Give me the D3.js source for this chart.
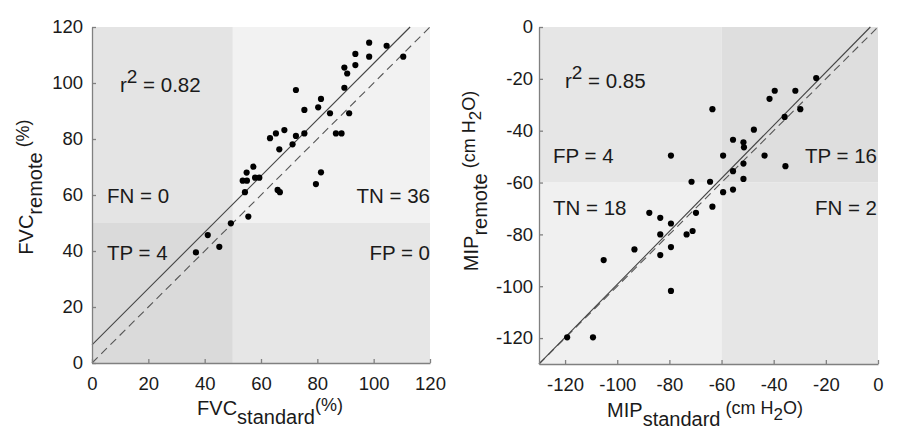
<!DOCTYPE html>
<html lang="en">
<head>
<meta charset="UTF-8">
<title>FVC / MIP agreement</title>
<script src="https://d3js.org/d3.v7.min.js"></script>
<style>
    body { margin: 0; background: #fff; }
    svg { display: block; }
    text { font-family: "Liberation Sans", Arial, sans-serif; fill: #1a1a1a; }
    .tick text { font-size: 18.5px; }
    .domain, .tick line { stroke: #808080; stroke-width: 1.3; }
    .stat { font-size: 20.5px; }
    .lab { font-size: 20px; }
</style>
</head>
<body>
<script>
// ---- data ----
const fvcStd    = [41.1, 36.9, 45.2, 49.3, 98.4, 104.6, 110.5, 93.5, 98.4, 93.5, 89.6, 90.6, 89.6, 72.4, 81.3, 80.3, 75.4, 84.5, 91.3, 68.3, 65.3, 63.2, 72.4, 75.4, 86.6, 88.6, 71.2, 66.5, 57.3, 54.9, 53.5, 55.0, 57.9, 59.4, 81.3, 79.5, 65.9, 66.7, 54.3, 55.5];
const fvcRemote = [45.7, 39.5, 41.5, 49.9, 114.4, 113.3, 109.4, 110.4, 109.4, 106.4, 105.5, 103.4, 98.3, 97.5, 94.3, 91.3, 90.4, 89.2, 89.2, 83.2, 82.0, 80.3, 81.1, 82.0, 82.0, 82.0, 78.1, 76.3, 70.1, 68.0, 65.1, 65.1, 66.2, 66.2, 68.1, 63.9, 61.8, 61.0, 61.0, 52.3];

const mipStd    = [-79.4, -63.5, -71.5, -64.4, -23.7, -39.6, -41.6, -31.7, -29.8, -35.8, -47.6, -55.6, -51.6, -51.4, -59.4, -43.5, -51.6, -35.5, -55.6, -51.6, -59.4, -55.6, -63.5, -69.8, -71.1, -87.7, -83.5, -79.4, -83.5, -73.4, -93.4, -79.4, -83.5, -105.2, -79.4, -119.2, -109.3];
const mipRemote = [-49.6, -31.7, -59.7, -59.7, -19.7, -24.6, -27.7, -24.6, -31.7, -34.7, -39.6, -43.5, -44.5, -46.4, -49.6, -49.6, -52.7, -53.7, -55.6, -58.6, -63.7, -62.7, -69.3, -71.7, -78.7, -71.7, -73.6, -75.8, -80.0, -80.0, -85.8, -84.9, -88.0, -89.9, -101.8, -119.7, -119.7];

const fvcTicks = [0, 20, 40, 60, 80, 100, 120];
const mipTicks = [-120, -100, -80, -60, -40, -20, 0];

// fitted lines (intercept, slope) as drawn
const fvcFit = [6.5, 1.005];
const mipFit = [3, 1.023];

const fvcStats = ["0.82", "FN = 0", "TN = 36", "TP = 4", "FP = 0"];
const mipStats = ["0.85", "FP = 4", "TP = 16", "TN = 18", "FN = 2"];

const W = 900, H = 448;
const svg = d3.select("body").append("svg").attr("width", W).attr("height", H);

function panel(o) {
    const x = d3.scaleLinear().domain(o.domain).range(o.xr);
    const y = d3.scaleLinear().domain(o.domain).range(o.yr);
    const g = svg.append("g");
    const [d0, d1] = o.domain, t = o.thr;

    // shaded quadrants
    const quads = [
        [d0, t, t, d1, o.fills[0]],  // upper-left
        [t, d1, t, d1, o.fills[1]],  // upper-right
        [d0, t, d0, t, o.fills[2]],  // lower-left
        [t, d1, d0, t, o.fills[3]]   // lower-right
    ];
    g.selectAll("rect.q").data(quads).enter().append("rect")
        .attr("x", d => x(d[0])).attr("width", d => x(d[1]) - x(d[0]))
        .attr("y", d => y(d[3])).attr("height", d => y(d[2]) - y(d[3]))
        .attr("fill", d => d[4]);

    // identity line (dashed)
    g.append("line")
        .attr("x1", x(d0)).attr("y1", y(d0)).attr("x2", x(d1)).attr("y2", y(d1))
        .attr("stroke", "#555").attr("stroke-width", 1.1).attr("stroke-dasharray", "8,5");

    // fitted line (solid), clipped to the box
    const [b0, b1] = o.fit;
    let xa = Math.max(d0, (d0 - b0) / b1), xb = Math.min(d1, (d1 - b0) / b1);
    g.append("line")
        .attr("x1", x(xa)).attr("y1", y(b0 + b1 * xa))
        .attr("x2", x(xb)).attr("y2", y(b0 + b1 * xb))
        .attr("stroke", "#444").attr("stroke-width", 1.1);

    // points
    g.selectAll("circle").data(o.xs).enter().append("circle")
        .attr("cx", d => x(d)).attr("cy", (d, i) => y(o.ys[i]))
        .attr("r", 3.1).attr("fill", "#000");

    // axes (ticks point inward)
    g.append("g").attr("transform", `translate(0,${o.yr[0]})`)
        .call(d3.axisBottom(x).tickValues(o.ticks).tickFormat(d => d).tickSizeInner(-4).tickSizeOuter(0).tickPadding(14))
        .call(a => a.selectAll(".tick text").attr("dy", "0.72em"));
    g.append("g").attr("transform", `translate(${o.xr[0]},0)`)
        .call(d3.axisLeft(y).tickValues(o.ticks).tickFormat(d => d).tickSizeInner(-4).tickSizeOuter(0).tickPadding(o.ypad));

    // stats text
    const s = o.stats;
    const r2 = g.append("text").attr("class", "stat").attr("x", o.r2pos[0]).attr("y", o.r2pos[1]);
    r2.append("tspan").text("r");
    r2.append("tspan").text("2").attr("dy", -9).attr("font-size", 19);
    r2.append("tspan").text(" = " + s[0]).attr("dy", 9);
    g.append("text").attr("class", "stat").attr("x", o.leftX).attr("y", o.rowY[0]).text(s[1]);
    g.append("text").attr("class", "stat").attr("x", o.rightX).attr("y", o.rowY[0]).attr("text-anchor", "end").text(s[2]);
    g.append("text").attr("class", "stat").attr("x", o.leftX).attr("y", o.rowY[1]).text(s[3]);
    g.append("text").attr("class", "stat").attr("x", o.rightX).attr("y", o.rowY[1]).attr("text-anchor", "end").text(s[4]);

    // axis titles
    const xl = g.append("text").attr("class", "lab").attr("x", o.xlab[0]).attr("y", o.xlab[1]).attr("text-anchor", "middle");
    o.xparts(xl);
    const yl = g.append("text").attr("class", "lab").attr("text-anchor", "middle")
        .attr("transform", `translate(${o.ylab[0]},${o.ylab[1]}) rotate(-90)`);
    o.yparts(yl);
}

// label pieces: main, subscript, then the unit slightly raised
function fvcLabel(sub) {
    return t => {
        t.append("tspan").text("FVC");
        t.append("tspan").text(sub).attr("dy", 9);
        t.append("tspan").text(sub === "remote" ? " (%)" : "(%)").attr("dy", -13).attr("font-size", 18);
    };
}
function mipLabel(sub) {
    return t => {
        t.append("tspan").text("MIP");
        t.append("tspan").text(sub).attr("dy", 9);
        t.append("tspan").text(" (cm H").attr("dy", -12).attr("font-size", 18);
        t.append("tspan").text("2").attr("dy", 6).attr("font-size", 17);
        t.append("tspan").text("O)").attr("dy", -6).attr("font-size", 18);
    };
}

panel({
    domain: [0, 120], thr: 50, xr: [92, 430], yr: [363, 27],
    fills: ["#e4e4e4", "#f2f2f2", "#dadada", "#e6e6e6"],
    fit: fvcFit, xs: fvcStd, ys: fvcRemote, ticks: fvcTicks, stats: fvcStats, ypad: 9,
    r2pos: [120, 92], leftX: 107, rightX: 430, rowY: [203, 260],
    xlab: [270, 415], ylab: [33, 187],
    xparts: fvcLabel("standard"), yparts: fvcLabel("remote")
});

panel({
    domain: [-130, 0], thr: -60, xr: [539, 878], yr: [364, 27],
    fills: ["#e6e6e6", "#dedede", "#f0f0f0", "#e6e6e6"],
    fit: mipFit, xs: mipStd, ys: mipRemote, ticks: mipTicks, stats: mipStats, ypad: 6,
    r2pos: [565, 88], leftX: 553, rightX: 877, rowY: [163, 215],
    xlab: [705, 417], ylab: [478, 181],
    xparts: mipLabel("standard"), yparts: mipLabel("remote")
});
</script>
</body>
</html>
